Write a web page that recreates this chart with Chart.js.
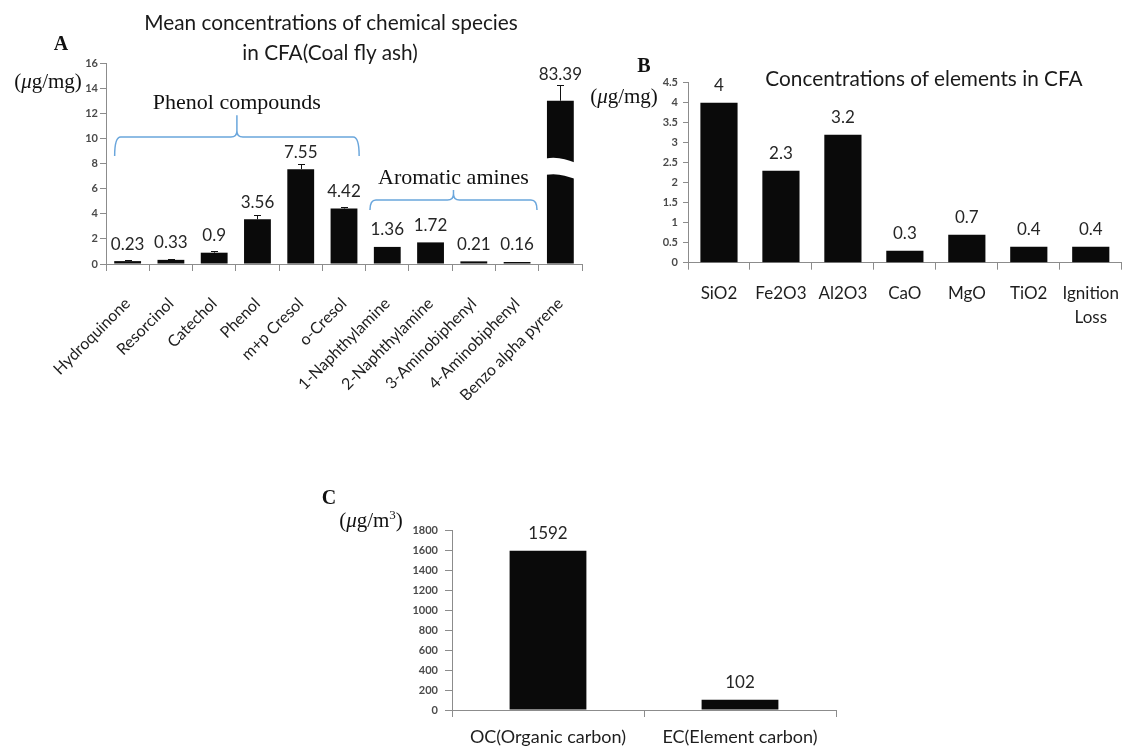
<!DOCTYPE html>
<html>
<head>
<meta charset="utf-8">
<title>CFA chemical composition</title>
<script src="https://cdn.jsdelivr.net/npm/chart.js@4.4.1/dist/chart.umd.min.js"></script>
<style>
  html, body { margin: 0; padding: 0; background: #fff; }
  #page { position: relative; width: 1131px; height: 746px; overflow: hidden; background: #fff; }
  canvas { position: absolute; }
  .t { position: absolute; white-space: nowrap; transform: translate(-50%, -50%); line-height: 1; }
  .sans { font-family: Lato, 'Open Sans', sans-serif; color: #1a1a1a; font-size: 20.8px; }
  .serif { font-family: 'Liberation Serif', 'DejaVu Serif', serif; color: #111; }
  .letter { font-weight: bold; font-size: 20px; }
  .unit { font-size: 21px; }
  .unit i { font-style: italic; }
</style>
</head>
<body>
<div id="page">
  <canvas id="chartA" width="600" height="400" style="left:0;top:0"></canvas>
  <canvas id="chartB" width="511" height="300" style="left:620px;top:40px"></canvas>
  <canvas id="chartC" width="540" height="276" style="left:320px;top:470px"></canvas>

  <div class="t sans" style="left:331px;top:22px">Mean concentrations of chemical species</div>
  <div class="t sans" style="left:330px;top:52px">in CFA(Coal fly ash)</div>
  <div class="t sans" style="left:924px;top:78px">Concentrations of elements in CFA</div>

  <div class="t serif letter" style="left:61px;top:43px">A</div>
  <div class="t serif letter" style="left:644px;top:65px">B</div>
  <div class="t serif letter" style="left:329px;top:497px">C</div>

  <div class="t serif unit" style="left:48px;top:81px">(<i>μ</i>g/mg)</div>
  <div class="t serif unit" style="left:624px;top:96px">(<i>μ</i>g/mg)</div>
  <div class="t serif unit" style="left:371px;top:519px">(<i>μ</i>g/m<sup style="font-size:13px">3</sup>)</div>
</div>

<script>
// ---- Panel A: mean concentrations of chemical species (µg/mg) ----
const speciesLabels = ['Hydroquinone', 'Resorcinol', 'Catechol', 'Phenol', 'm+p Cresol', 'o-Cresol',
  '1-Naphthylamine', '2-Naphthylamine', '3-Aminobiphenyl', '4-Aminobiphenyl', 'Benzo alpha pyrene'];
const speciesMeans = [0.23, 0.33, 0.9, 3.56, 7.55, 4.42, 1.36, 1.72, 0.21, 0.16, 83.39];
const speciesErrors = [0.05, 0.05, 0.15, 0.35, 0.45, 0.15, 0, 0, 0, 0, 16];

// ---- Panel B: concentrations of elements in CFA (µg/mg) ----
const elementLabels = ['SiO2', 'Fe2O3', 'Al2O3', 'CaO', 'MgO', 'TiO2', ['Ignition', 'Loss']];
const elementValues = [4, 2.3, 3.2, 0.3, 0.7, 0.4, 0.4];

// ---- Panel C: carbon fractions (µg/m³) ----
const carbonLabels = ['OC(Organic carbon)', 'EC(Element carbon)'];
const carbonValues = [1592, 102];

// Panel A axis is broken: values above the axis maximum are compressed above the break.
const axisA = { max: 16, step: 2, breakAt: 7, compress: 0.0785, gapLow: 7.1, gapHigh: 8.4 };
function foldA(v) {
  return v > axisA.max ? axisA.breakAt + (v - axisA.breakAt) * axisA.compress : v;
}

// Curly braces grouping the compound classes in panel A (category index / axis units).
const groupBraces = [
  { text: 'Phenol compounds', from: -0.3, to: 5.35, base: 10.1, end: 8.6, tip: 11.85 },
  { text: 'Aromatic amines', from: 5.6, to: 9.46, base: 5.1, end: 4.3, tip: 5.9 }
];

const AXIS_GREY = '#8c8c8c';
const TICK_GREY = '#4a4a4a';
const BAR_BLACK = '#0a0a0a';
const SANS = 'Lato, "Open Sans", sans-serif';

function valueLabels(values, errors, fold, font) {
  return {
    id: 'valueLabels',
    afterDatasetsDraw(chart) {
      const ctx = chart.ctx, y = chart.scales.y;
      const meta = chart.getDatasetMeta(0);
      ctx.save();
      ctx.font = font;
      ctx.fillStyle = '#262626';
      ctx.textAlign = 'center';
      ctx.textBaseline = 'middle';
      meta.data.forEach((bar, i) => {
        let cy = bar.y - 17;
        if (errors && errors[i] > 0) {
          cy = Math.min(cy, y.getPixelForValue(fold(values[i] + errors[i])) - 10);
        }
        ctx.fillText(String(values[i]), bar.x, cy);
      });
      ctx.restore();
    }
  };
}

const errorBars = {
  id: 'errorBars',
  afterDatasetsDraw(chart) {
    const ctx = chart.ctx, y = chart.scales.y;
    const meta = chart.getDatasetMeta(0);
    ctx.save();
    ctx.strokeStyle = '#111';
    ctx.lineWidth = 1;
    meta.data.forEach((bar, i) => {
      const e = speciesErrors[i];
      if (!e) return;
      const top = Math.round(y.getPixelForValue(foldA(speciesMeans[i] + e))) + 0.5;
      const x = Math.round(bar.x) + 0.5;
      ctx.beginPath();
      ctx.moveTo(x, bar.y);
      ctx.lineTo(x, top);
      ctx.moveTo(x - 3.5, top);
      ctx.lineTo(x + 3.5, top);
      ctx.stroke();
    });
    ctx.restore();
  }
};

// White wavy band marking the break on bars taller than the axis.
const axisBreak = {
  id: 'axisBreak',
  afterDatasetsDraw(chart) {
    const ctx = chart.ctx, y = chart.scales.y;
    const meta = chart.getDatasetMeta(0);
    const yTop = y.getPixelForValue(axisA.gapHigh);
    const yBot = y.getPixelForValue(axisA.gapLow);
    ctx.save();
    ctx.fillStyle = '#fff';
    meta.data.forEach((bar, i) => {
      if (speciesMeans[i] <= axisA.max) return;
      const L = bar.x - bar.width / 2 - 1, R = bar.x + bar.width / 2 + 1, w = R - L;
      ctx.beginPath();
      ctx.moveTo(L, yTop);
      ctx.bezierCurveTo(L + w * 0.4, yTop - 2, L + w * 0.7, yTop + 1, R, yTop + 4);
      ctx.lineTo(R, yBot + 4);
      ctx.bezierCurveTo(L + w * 0.7, yBot + 1, L + w * 0.4, yBot - 2, L, yBot);
      ctx.closePath();
      ctx.fill();
    });
    ctx.restore();
  }
};

const braces = {
  id: 'braces',
  afterDraw(chart) {
    const ctx = chart.ctx, x = chart.scales.x, y = chart.scales.y;
    ctx.save();
    ctx.strokeStyle = '#6aa6dc';
    ctx.lineWidth = 1.5;
    ctx.fillStyle = '#111';
    ctx.font = '22px "Liberation Serif", "DejaVu Serif", serif';
    ctx.textAlign = 'center';
    ctx.textBaseline = 'middle';
    groupBraces.forEach(g => {
      const x1 = x.getPixelForValue(g.from), x2 = x.getPixelForValue(g.to);
      const xm = (x1 + x2) / 2;
      const yb = y.getPixelForValue(g.base), ye = y.getPixelForValue(g.end), yt = y.getPixelForValue(g.tip);
      const r = 6;
      ctx.beginPath();
      ctx.moveTo(x1, ye);
      ctx.quadraticCurveTo(x1, yb, x1 + r, yb);
      ctx.lineTo(xm - r, yb);
      ctx.quadraticCurveTo(xm, yb, xm, yb - r);
      ctx.lineTo(xm, yt);
      ctx.moveTo(xm, yb - r);
      ctx.quadraticCurveTo(xm, yb, xm + r, yb);
      ctx.lineTo(x2 - r, yb);
      ctx.quadraticCurveTo(x2, yb, x2, ye);
      ctx.stroke();
      ctx.fillText(g.text, xm, yt - 12);
    });
    ctx.restore();
  }
};

function barChart(id, cfg) {
  return new Chart(document.getElementById(id), {
    type: 'bar',
    data: {
      labels: cfg.labels,
      datasets: [{
        data: cfg.data,
        backgroundColor: BAR_BLACK,
        borderWidth: 0,
        barPercentage: cfg.barPct,
        categoryPercentage: 1
      }]
    },
    options: {
      responsive: false,
      animation: false,
      events: [],
      layout: { padding: cfg.padding },
      plugins: { legend: { display: false }, title: { display: false }, tooltip: { enabled: false } },
      scales: {
        x: {
          type: 'category',
          offset: true,
          grid: { display: true, offset: true, drawOnChartArea: false, drawTicks: true,
                  tickLength: 7, color: AXIS_GREY, tickColor: AXIS_GREY },
          border: { display: true, color: AXIS_GREY, width: 1 },
          ticks: {
            autoSkip: false,
            minRotation: cfg.rotation, maxRotation: cfg.rotation,
            padding: cfg.xPad,
            color: '#1e1e1e',
            font: { family: SANS, size: cfg.xFont, lineHeight: 1.4 }
          },
          afterFit(scale) { scale.height = cfg.xHeight; }
        },
        y: {
          min: cfg.yMin, max: cfg.yMax,
          grid: { display: true, drawOnChartArea: false, drawTicks: true,
                  tickLength: cfg.yTickLen, color: AXIS_GREY, tickColor: AXIS_GREY },
          border: { display: true, color: AXIS_GREY, width: 1 },
          ticks: {
            stepSize: cfg.step,
            padding: cfg.yPad,
            color: TICK_GREY,
            font: { family: SANS, size: 11, weight: 'bold' },
            callback: v => String(v)
          },
          afterFit(scale) { scale.width = cfg.yWidth; }
        }
      }
    },
    plugins: cfg.plugins
  });
}

barChart('chartA', {
  labels: speciesLabels,
  data: speciesMeans.map(foldA),
  barPct: 0.62,
  padding: { top: 63, right: 18, left: 0, bottom: 0 },
  rotation: 45, xPad: 22, xFont: 16, xHeight: 136,
  yMin: 0, yMax: axisA.max, step: axisA.step, yWidth: 106, yTickLen: 6, yPad: 2,
  plugins: [axisBreak, errorBars, valueLabels(speciesMeans, speciesErrors, foldA, '17px ' + SANS), braces]
});

barChart('chartB', {
  labels: elementLabels,
  data: elementValues,
  barPct: 0.6,
  padding: { top: 42.7, right: 0, left: 0, bottom: 0 },
  rotation: 0, xPad: 12, xFont: 17, xHeight: 77.3,
  yMin: 0, yMax: 4.5, step: 0.5, yWidth: 68, yTickLen: 5, yPad: 5,
  plugins: [valueLabels(elementValues, null, v => v, '17px ' + SANS)]
});

barChart('chartC', {
  labels: carbonLabels,
  data: carbonValues,
  barPct: 0.4,
  padding: { top: 60, right: 24, left: 0, bottom: 0 },
  rotation: 0, xPad: 8, xFont: 18, xHeight: 36,
  yMin: 0, yMax: 1800, step: 200, yWidth: 132, yTickLen: 7, yPad: 7,
  plugins: [valueLabels(carbonValues, null, v => v, '17px ' + SANS)]
});
</script>
</body>
</html>
